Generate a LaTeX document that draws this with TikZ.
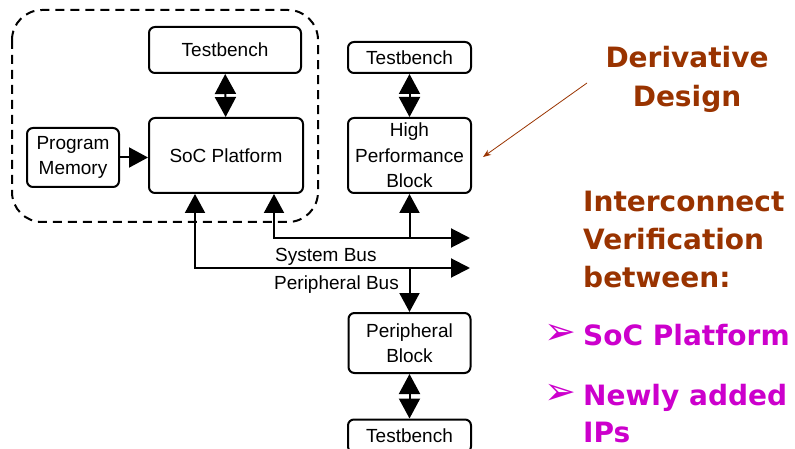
\documentclass[tikz,border=0pt]{standalone}
\usepackage{fontspec}
\setmainfont{Liberation Sans}
\newfontfamily\slidefont{DejaVu Sans}
\usetikzlibrary{arrows.meta, positioning}
\definecolor{ddbrown}{HTML}{993300}
\definecolor{ddmagenta}{HTML}{CC00CC}
\tikzset{
    blk/.style={rectangle, rounded corners=6pt, draw=black, line width=2pt,
    align=center, inner sep=0pt, font=\fontsize{19}{25.5}\selectfont},
    link/.style={line width=2pt, -{Triangle[width=20pt, length=19pt]}},
    dbl/.style={line width=2pt, {Triangle[width=21pt, length=20pt]}-{Triangle[width=21pt, length=20pt]}},
    buslink/.style={line width=2pt, {Triangle[width=20pt, length=19pt]}-{Triangle[width=19pt, length=19pt]}},
    buslabel/.style={inner sep=0pt, anchor=base west, font=\fontsize{19}{22}\selectfont},
    platform/.style={dashed, dash pattern=on 9pt off 6pt, line width=2pt, rounded corners=30pt},
    slide/.style={inner sep=0pt, font=\slidefont\bfseries\fontsize{28}{34}\selectfont},
    bullet/.style={inner sep=0pt, anchor=base west, text=ddmagenta, font=\slidefont\fontsize{38}{40}\selectfont},
}
\begin{document}
\begin{tikzpicture}[x=1pt, y=-1pt]

    \useasboundingbox (0,0) rectangle (795,449);
    \clip (0,0) rectangle (795,449);

% =========================================================
% LEFT — SoC platform and derivative blocks
% =========================================================

        \draw[platform] (12,10) rectangle (318,222);

        \node[blk, minimum width=152pt, minimum height=46pt] (tbsoc) at (225,50) {Testbench};
        \node[blk, minimum width=154pt, minimum height=75pt] (soc)   at (226,155.5) {SoC Platform};
        \node[blk, minimum width=92pt,  minimum height=59pt] (pmem)  at (73,157.5) {Program\\Memory};

        \node[blk, minimum width=123pt, minimum height=31pt] (tbhpb) at (409.5,57.5) {Testbench};
        \node[blk, minimum width=123pt, minimum height=75pt] (hpb)   at (409.5,155.5) {High\\Performance\\Block};
        \node[blk, minimum width=122pt, minimum height=60pt] (pblk)  at (409.5,343) {Peripheral\\Block};
        \node[blk, minimum width=123pt, minimum height=33pt] (tbpb)  at (409.5,436) {Testbench};

        \draw[link] (pmem.east) -- (pmem.east -| soc.west);
        \draw[dbl] (tbsoc) -- (soc);
        \draw[dbl] (tbhpb) -- (hpb);
        \draw[dbl] (pblk) -- (tbpb);

% buses
        \coordinate (sysend) at (470,238);
        \coordinate (perend) at (470,268);
        \draw[buslink] ([xshift=48pt]soc.south) |- (sysend);
        \draw[buslink] ([xshift=-31pt]soc.south) |- (perend);
        \draw[link] (hpb.south |- sysend) -- (hpb.south);
        \draw[link] (pblk.north |- perend) -- (pblk.north);

        \node[buslabel] (sysbus) at (275,261) {System Bus};
        \node[buslabel] (perbus) at (274,289) {Peripheral Bus};

% =========================================================
% RIGHT — slide text
% =========================================================

        \node[slide, text=ddbrown, anchor=base] (derive) at (687,68)  {Derivative};
        \node[slide, text=ddbrown, anchor=base] (design) at (687,107) {Design};
        \coordinate (ddtail) at (587,83);
        \draw[ddbrown, line width=0.8pt, -{Stealth[length=8pt, width=6pt]}] (ddtail) -- ([xshift=11pt, yshift=-1.5pt]hpb.east);

        \node[slide, text=ddbrown, anchor=base west] (icon)  at (583,212) {Interconnect};
        \node[slide, text=ddbrown, anchor=base west] (verif) at (583,250) {Verification};
        \node[slide, text=ddbrown, anchor=base west] (betw)  at (583,287) {between:};

        \node[bullet] (b1) at (544,344) {➢};
        \node[slide, text=ddmagenta, anchor=base west] (socp)  at (583,345) {SoC Platform};
        \node[bullet] (b2) at (544,404) {➢};
        \node[slide, text=ddmagenta, anchor=base west] (newly) at (583,405) {Newly added};
        \node[slide, text=ddmagenta, anchor=base west] (ips)   at (583,442) {IPs};

    \end{tikzpicture}
\end{document}
